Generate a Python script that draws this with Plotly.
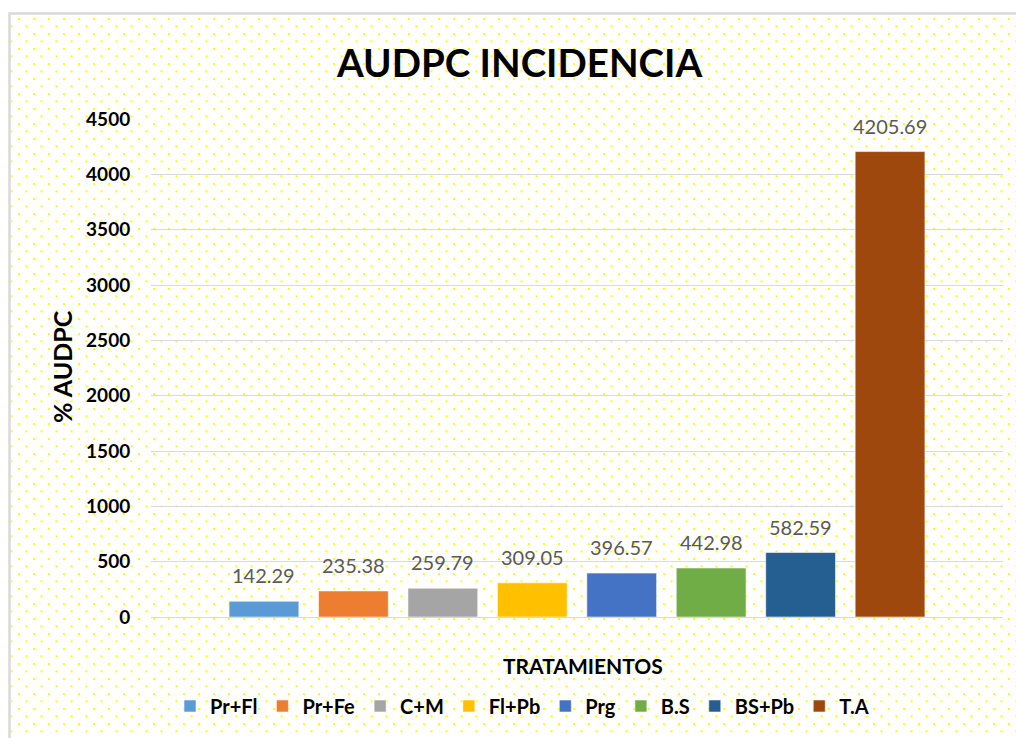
import base64
import plotly.graph_objects as go

# data
treatments = ['Pr+Fl', 'Pr+Fe', 'C+M', 'Fl+Pb', 'Prg', 'B.S', 'BS+Pb', 'T.A']
audpc = [142.29, 235.38, 259.79, 309.05, 396.57, 442.98, 582.59, 4205.69]
colors = ['#5B9BD5', '#ED7D31', '#A5A5A5', '#FFC000', '#4472C4', '#70AD47', '#255E91', '#9E480E']
y_ticks = [0, 500, 1000, 1500, 2000, 2500, 3000, 3500, 4000, 4500]

W, H = 1016, 738
ML, MR, MT, MB = 151, 13, 119, 121
PW, PH = W - ML - MR, H - MT - MB


def px_x(p):
    return (p - ML) / PW


def px_y(p):
    return (H - MB - p) / PH


# dotted chart-area background with a light frame
svg = (
    f'<svg xmlns="http://www.w3.org/2000/svg" width="{W}" height="{H}" viewBox="0 0 {W} {H}">'
    '<defs><pattern id="d" width="15" height="15" patternUnits="userSpaceOnUse">'
    '<rect x="3" y="3" width="2" height="2" fill="#ffff00"/>'
    '<rect x="10.5" y="10.3" width="2" height="2" fill="#ffff00"/>'
    '</pattern></defs>'
    f'<rect width="{W}" height="{H}" fill="white"/>'
    '<rect x="9.5" y="13.5" width="1030" height="760" fill="url(#d)" stroke="#d9d9d9" stroke-width="2.5"/>'
    '</svg>'
)
bg_src = 'data:image/svg+xml;base64,' + base64.b64encode(svg.encode()).decode()

fig = go.Figure()
for name, val, col in zip(treatments, audpc, colors):
    fig.add_trace(go.Bar(
        x=[name], y=[val], name=name,
        marker=dict(color=col, line=dict(color='rgba(255,255,255,0.55)', width=1)),
        width=0.78,
    ))
    # value label above each bar
    fig.add_annotation(x=name, y=val, text=f'{val:.2f}', showarrow=False,
                       xanchor='center', yanchor='bottom', yshift=12,
                       font=dict(family='Lato', size=20, color='#595959'))

fig.update_layout(
    width=W, height=H,
    margin=dict(l=ML, r=MR, t=MT, b=MB, pad=0),
    barmode='overlay',
    paper_bgcolor='white',
    plot_bgcolor='rgba(0,0,0,0)',
    font=dict(family='Lato', color='black'),
    images=[dict(source=bg_src, xref='paper', yref='paper',
                 x=px_x(0), y=px_y(0), sizex=W / PW, sizey=H / PH,
                 xanchor='left', yanchor='top', sizing='stretch', layer='below')],
    xaxis=dict(range=[-1.263, 8.263], showticklabels=False, showgrid=False,
               zeroline=False, showline=False, ticks=''),
    yaxis=dict(range=[0, 4500], tickvals=y_ticks, showgrid=True, gridcolor='#d9d9d9',
               gridwidth=1.3, zeroline=True, zerolinecolor='#d9d9d9', zerolinewidth=1.3,
               ticks='outside', ticklen=16, tickcolor='rgba(0,0,0,0)',
               tickfont=dict(family='Lato', size=19, color='black', weight='bold')),
    legend=dict(orientation='h', x=px_x(522), xanchor='center', y=px_y(706), yanchor='middle',
                font=dict(family='Lato', size=20, color='black', weight='bold'),
                bgcolor='rgba(0,0,0,0)', itemwidth=30, traceorder='normal'),
)
fig.add_annotation(text='<b>AUDPC INCIDENCIA</b>', x=px_x(519), y=px_y(62), xref='paper', yref='paper',
                   showarrow=False, xanchor='center', yanchor='middle',
                   font=dict(family='Lato', size=38.5, color='black'))
fig.add_annotation(text='<b>% AUDPC</b>', x=px_x(62), y=px_y(367), xref='paper', yref='paper',
                   showarrow=False, textangle=-90, xanchor='center', yanchor='middle',
                   font=dict(family='Lato', size=25, color='black'))
fig.add_annotation(text='<b>TRATAMIENTOS</b>', x=px_x(583), y=px_y(665), xref='paper', yref='paper',
                   showarrow=False, xanchor='center', yanchor='middle',
                   font=dict(family='Lato', size=21, color='black'))

fig.write_html("out.html", config={'displayModeBar': False},
               post_script="document.body.style.margin='0px';")
